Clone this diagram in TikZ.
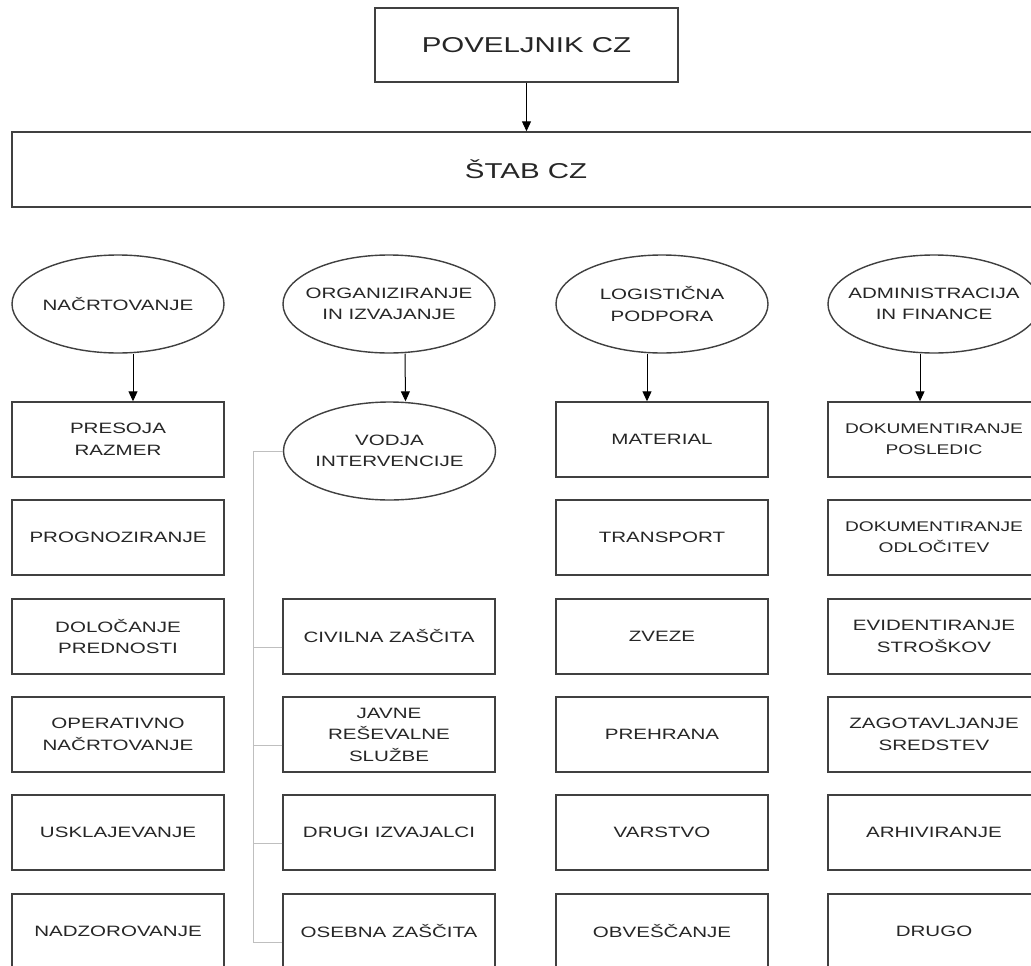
\documentclass[tikz,border=0pt]{standalone}
\usepackage{fontspec}
\setmainfont[FakeStretch=1.37]{Liberation Sans}
\usetikzlibrary{shapes.geometric,arrows.meta}

\begin{document}
\begin{tikzpicture}[x=1pt, y=-1pt,
    every node/.style={text=black!85, align=center, font=\fontsize{15}{21.5}\selectfont},
    box/.style={draw=black!75, line width=1.4pt, minimum width=212pt, minimum height=75pt, inner sep=2pt},
    oval/.style={draw=black!75, line width=1.4pt, ellipse, minimum width=212pt, minimum height=98pt, inner xsep=-15pt, inner ysep=0pt},
    arr/.style={draw=black, line width=1pt, -{Triangle[length=10pt, width=9pt]}},
    bracket/.style={draw=black!25, line width=1pt}]
      \path[use as bounding box, fill=white] (0,0) rectangle (1031,966);
      \clip (0,0) rectangle (1031,966);

      \node[box, minimum width=303pt, minimum height=74pt, font=\fontsize{21.5}{26}\selectfont] (pov) at (526.5,45){POVELJNIK CZ};
      \node[box, minimum width=1028pt, font=\fontsize{21.5}{26}\selectfont] (stab) at (526,169.5){ŠTAB CZ};

      \node[oval] (plan) at (118,304){NAČRTOVANJE};
      \node[oval] (org) at (389,304){ORGANIZIRANJE\\IN IZVAJANJE};
      \node[oval] (log) at (662,304){LOGISTIČNA\\PODPORA};
      \node[oval] (adm) at (934,304){ADMINISTRACIJA\\IN FINANCE};

      \node[box] (pres) at (118,439.5){PRESOJA\\RAZMER};
      \node[box] (prog) at (118,537.5){PROGNOZIRANJE};
      \node[box] (dolo) at (118,636.5){DOLOČANJE\\PREDNOSTI};
      \node[box] (oper) at (118,734.5){OPERATIVNO\\NAČRTOVANJE};
      \node[box] (uskl) at (118,832.5){USKLAJEVANJE};
      \node[box] (nadz) at (118,931.5){NADZOROVANJE};

      \node[oval] (vodja) at (389.5,451){VODJA\\INTERVENCIJE};
      \node[box] (civ) at (389,636.5){CIVILNA ZAŠČITA};
      \node[box] (javne) at (389,734.5){JAVNE\\REŠEVALNE\\SLUŽBE};
      \node[box] (drugi) at (389,832.5){DRUGI IZVAJALCI};
      \node[box] (oseb) at (389,931.5){OSEBNA ZAŠČITA};

      \node[box] (mat) at (662,439.5){MATERIAL};
      \node[box] (tran) at (662,537.5){TRANSPORT};
      \node[box] (zvez) at (662,636.5){ZVEZE};
      \node[box] (preh) at (662,734.5){PREHRANA};
      \node[box] (varst) at (662,832.5){VARSTVO};
      \node[box] (obv) at (662,931.5){OBVEŠČANJE};

      \node[box, font=\fontsize{14}{21}\selectfont] (dokp) at (934,439.5){DOKUMENTIRANJE\\POSLEDIC};
      \node[box, font=\fontsize{14}{21}\selectfont] (doko) at (934,537.5){DOKUMENTIRANJE\\ODLOČITEV};
      \node[box] (evid) at (934,636.5){EVIDENTIRANJE\\STROŠKOV};
      \node[box] (zago) at (934,734.5){ZAGOTAVLJANJE\\SREDSTEV};
      \node[box] (arhi) at (934,832.5){ARHIVIRANJE};
      \node[box] (drugo) at (934,931.5){DRUGO};

      \draw[arr] (pov.south) -- (pov.south |- stab.north);
      \draw[arr] ([xshift=15pt]plan.south) -- ([xshift=15pt]pres.north);
      \draw[arr] ([xshift=16pt]org.south) -- ([xshift=16pt]vodja.north);
      \draw[arr] ([xshift=-15pt]log.south) -- ([xshift=-15pt]mat.north);
      \draw[arr] ([xshift=-14pt]adm.south) -- ([xshift=-14pt]dokp.north);

      \draw[bracket] (vodja.west) -- ++(-29pt,0) |- ([yshift=-11pt]oseb.west);
      \draw[bracket] ([yshift=-11pt]civ.west) -- ++(-29pt,0);
      \draw[bracket] ([yshift=-11pt]javne.west) -- ++(-29pt,0);
      \draw[bracket] ([yshift=-11pt]drugi.west) -- ++(-29pt,0);
    \end{tikzpicture}
\end{document}
